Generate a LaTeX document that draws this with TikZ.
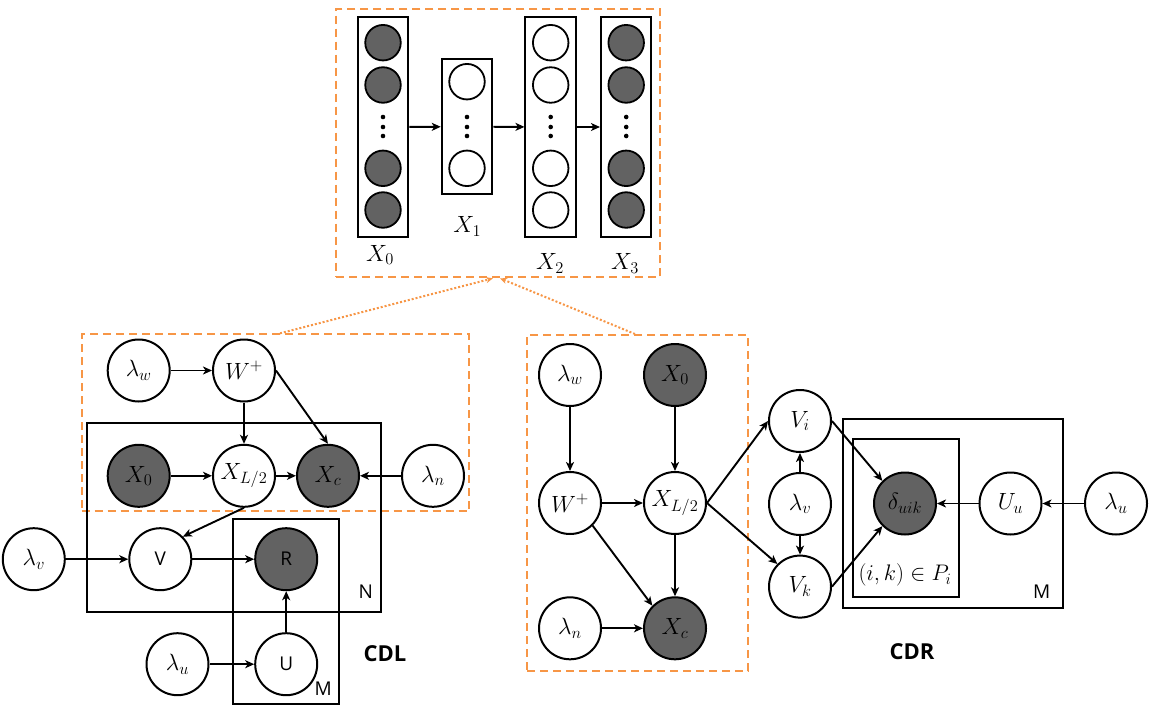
\RequirePackage{fix-cm}
\documentclass[tikz,border=0pt]{standalone}
\usepackage{fontspec}
\newfontfamily\labelsans{Open Sans}
\usetikzlibrary{arrows.meta}
\definecolor{obsgray}{RGB}{98,98,98}
\definecolor{hlorange}{RGB}{247,150,70}
\newcommand\mfont{\fontsize{23.5}{28}\selectfont}
\newcommand\sfont{\labelsans\fontsize{19}{23}\selectfont}

\begin{document}
\begin{tikzpicture}[x=1pt,y=-1pt,
  var/.style={circle,draw,line width=2pt,minimum size=62pt,inner sep=0pt,fill=white,font=\mfont},
  obs/.style={var,fill=obsgray},
  unitc/.style={circle,draw,line width=1.8pt,minimum size=35.5pt,inner sep=0pt,fill=white},
  unitobs/.style={unitc,fill=obsgray},
  layerbox/.style={draw,line width=2pt,minimum width=50.5pt,inner sep=0pt},
  plate/.style={draw,line width=2pt,inner sep=0pt},
  hidbox/.style={draw=hlorange,line width=2pt,dash pattern=on 8pt off 5pt,inner sep=0pt},
  edge/.style={line width=1.9pt,-{Stealth[length=9pt,width=8pt,inset=2.5pt]}},
  link/.style={hlorange,line width=2pt,dash pattern=on 2pt off 2pt,-{Stealth[length=7pt,width=6pt]}},
  dotmark/.style={circle,fill,inner sep=0pt,minimum size=4.6pt},
  mlabel/.style={font=\mfont,inner sep=0pt},
  sanslbl/.style={font=\sfont,inner sep=0pt},
  title/.style={font=\labelsans\bfseries\fontsize{22}{26}\selectfont,inner sep=0pt}]

\fill[white] (0,0) rectangle (1151,709);
\useasboundingbox (0,0) rectangle (1151,709);

% ---------- autoencoder layers ----------
\node[hidbox,minimum width=324pt,minimum height=268.3pt] (topbox) at (498,143.15) {};

\node[layerbox,minimum height=219.4pt] (l0) at (383,127) {};
\node[layerbox,minimum height=134.7pt] (l1) at (467,126.7) {};
\node[layerbox,minimum height=219.4pt] (l2) at (550.7,127) {};
\node[layerbox,minimum height=219.4pt] (l3) at (626.2,127) {};

\foreach \n/\y in {a/42.7,b/85,c/168.3,d/210}{
  \node[unitobs] (u0\n) at (383,\y) {};
  \node[unitc]   (u2\n) at (550.7,\y) {};
  \node[unitobs] (u3\n) at (626.2,\y) {};
}
\node[unitc] (u1a) at (467,81.7) {};
\node[unitc] (u1b) at (467,168.3) {};

\foreach \x in {383,467,550.7,626.2}{
  \foreach \y in {117,127,136}
    \node[dotmark] at (\x,\y) {};
}

\draw[edge] (l0) -- (l1);
\draw[edge] (l1) -- (l2);
\draw[edge] (l2) -- (l3);

\node[mlabel] (t0) at (380,255) {$X_0$};
\node[mlabel] (t1) at (467.3,226.7) {$X_1$};
\node[mlabel] (t2) at (550,263.3) {$X_2$};
\node[mlabel] (t3) at (625,263.3) {$X_3$};

% ---------- CDL ----------
\node[hidbox,minimum width=387.6pt,minimum height=176.7pt] (cdlbox) at (275.5,422.65) {};
\node[plate,minimum width=294pt,minimum height=189.3pt] (plateN) at (233.7,517.35) {};
\node[plate,minimum width=105.7pt,minimum height=185pt] (plateM) at (286.15,611.8) {};

\node[var] (lwA) at (138.7,370.5) {$\lambda_w$};
\node[var] (wA)  at (244,370.5) {$W^+$};
\node[obs] (x0A) at (138.7,475.8) {$X_0$};
\node[var] (xlA) at (244,475.8) {$X_{L/2}$};
\node[obs] (xcA) at (328,475.8) {$X_c$};
\node[var] (lnA) at (433,475.8) {$\lambda_n$};
\node[var] (lvA) at (33.8,559.2) {$\lambda_v$};
\node[var,font=\sfont] (vA) at (160.3,559.2) {V};
\node[obs,font=\sfont] (rA) at (286.2,559.2) {R};
\node[var] (luA) at (177.5,664.2) {$\lambda_u$};
\node[var,font=\sfont] (uA) at (286.2,664.2) {U};

\draw[edge] (lwA) -- (wA);
\draw[edge] (wA) -- (xlA);
\draw[edge] (wA.east) -- (xcA.north);
\draw[edge] (x0A) -- (xlA);
\draw[edge] (xlA) -- (xcA);
\draw[edge] (lnA) -- (xcA);
\draw[edge] (xlA.south) -- (vA.north east);
\draw[edge] (lvA) -- (vA);
\draw[edge] (vA) -- (rA);
\draw[edge] (uA) -- (rA);
\draw[edge] (luA) -- (uA);

\node[sanslbl] (nA) at (365.7,591.7) {N};
\node[sanslbl] (mA) at (323.3,688.3) {M};
\node[title] (cdl) at (385,653.3) {CDL};

% ---------- CDR ----------
\node[hidbox,minimum width=221pt,minimum height=335.7pt] (cdrbox) at (637.8,502.85) {};
\node[plate,minimum width=220.6pt,minimum height=188.7pt] (plateMB) at (953,513.35) {};
\node[plate,minimum width=105.7pt,minimum height=158pt] (plateP) at (906.15,518.3) {};

\node[var] (lwB) at (570,375) {$\lambda_w$};
\node[obs] (x0B) at (675,375) {$X_0$};
\node[var] (wB)  at (570,503) {$W^+$};
\node[var] (xlB) at (675,503) {$X_{L/2}$};
\node[var] (lnB) at (570,628.3) {$\lambda_n$};
\node[obs] (xcB) at (675,628.3) {$X_c$};
\node[var] (viB) at (800,421) {$V_i$};
\node[var] (lvB) at (800,504) {$\lambda_v$};
\node[var] (vkB) at (800,586.6) {$V_k$};
\node[obs] (dB)  at (905,503.5) {$\delta_{uik}$};
\node[var] (uB)  at (1010.5,503.5) {$U_u$};
\node[var] (luB) at (1116,503.5) {$\lambda_u$};

\draw[edge] (lwB) -- (wB);
\draw[edge] (x0B) -- (xlB);
\draw[edge] (wB) -- (xlB);
\draw[edge] (xlB) -- (xcB);
\draw[edge] (wB.south east) -- (xcB.north west);
\draw[edge] (lnB) -- (xcB);
\draw[edge] (xlB.east) -- (viB.west);
\draw[edge] (xlB.east) -- (vkB.north west);
\draw[edge] (lvB) -- (viB);
\draw[edge] (lvB) -- (vkB);
\draw[edge] (viB.east) -- (dB.north west);
\draw[edge] (vkB.east) -- (dB.south west);
\draw[edge] (uB) -- (dB);
\draw[edge] (luB) -- (uB);

\node[mlabel,font=\fontsize{22.5}{27}\selectfont] (pset) at (905,575) {$(i,k)\in P_i$};
\node[sanslbl] (mB) at (1041.7,591.7) {M};
\node[title] (cdr) at (912,652) {CDR};

% ---------- links to the autoencoder ----------
\draw[link] ([xshift=4.5pt]cdlbox.north) -- ([xshift=-5pt]topbox.south);
\draw[link] ([xshift=-2.8pt]cdrbox.north) -- ([xshift=2pt]topbox.south);

\end{tikzpicture}
\end{document}
